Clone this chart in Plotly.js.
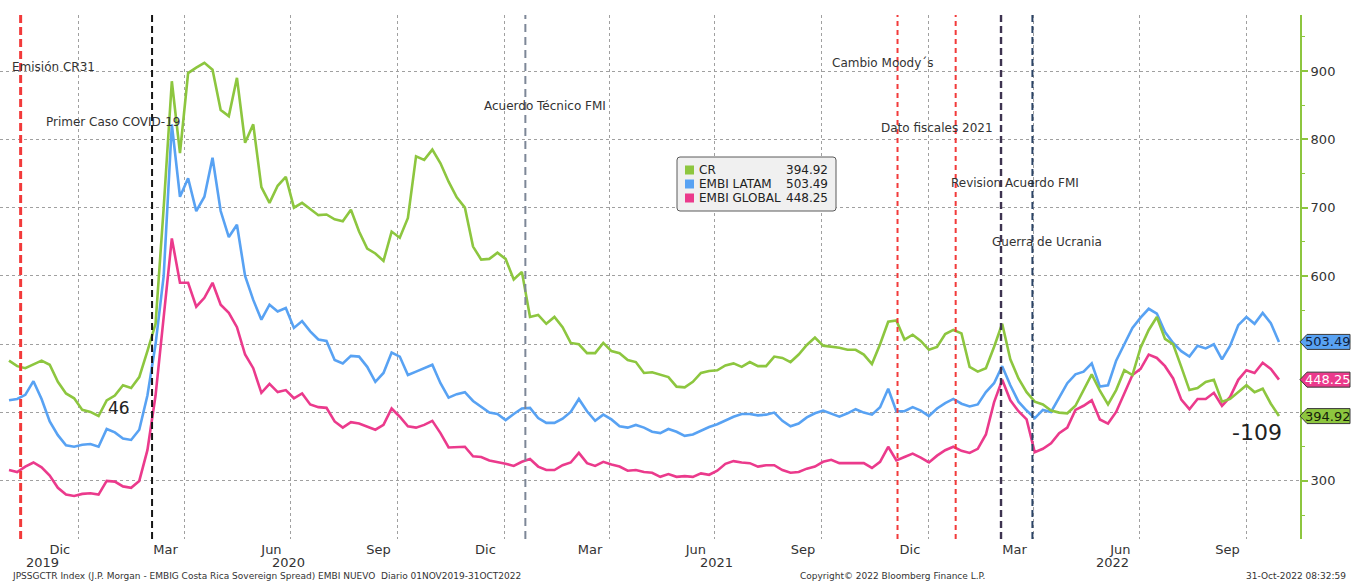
<!DOCTYPE html>
<html>
<head>
<meta charset="utf-8">
<script src="https://cdn.plot.ly/plotly-3.0.1.min.js"></script>
<style>
  html, body { margin: 0; padding: 0; background: #ffffff; }
  #chart { width: 1351px; height: 581px; }
</style>
</head>
<body>
<div id="chart"></div>
<script>
// ---------------- DATA ----------------
// Weekly observations starting 01-Nov-2019 (every 7 days)
const startDate = '2019-11-01';
const stepDays = 7;

const seriesNames = ['CR', 'EMBI LATAM', 'EMBI GLOBAL'];

const crSpread = [
  476,468,465,471,476,470,445,428,421,404,
  401,395,418,425,440,436,452,490,530,700,
  885,780,897,905,912,902,843,834,890,795,
  822,730,707,732,745,700,707,698,689,690,
  683,680,697,665,640,633,622,665,656,685,
  775,770,785,765,738,715,700,643,624,625,
  634,625,595,606,540,543,530,540,525,502,
  500,487,487,502,490,487,477,474,458,459,
  456,452,438,437,445,458,461,462,469,472,
  467,474,468,468,482,480,474,485,499,510,
  498,497,495,492,492,485,471,500,533,535,
  507,514,505,492,496,515,521,516,467,460,
  465,496,530,478,450,430,416,412,403,400,
  399,410,432,456,432,412,433,462,455,495,
  521,540,508,500,467,433,436,445,448,416,
  420,430,440,430,435,413,394.92
];

const embiLatam = [
  418,420,426,446,420,387,367,352,350,353,
  354,350,376,371,362,360,375,425,500,600,
  822,716,743,695,716,773,695,657,675,600,
  565,536,558,548,553,524,534,519,507,505,
  477,472,483,482,467,445,458,488,482,455,
  460,465,470,443,422,427,430,417,409,400,
  398,389,398,406,407,392,385,385,391,401,
  420,402,388,397,390,380,378,382,378,372,
  370,376,372,366,368,374,379,383,389,394,
  398,398,396,397,400,388,380,384,393,399,
  403,399,394,399,405,400,397,408,435,402,
  402,408,403,395,406,414,420,413,409,412,
  430,443,468,440,416,403,392,404,401,422,
  443,456,460,472,438,440,476,500,524,539,
  552,545,518,502,490,482,498,494,500,478,
  498,528,540,530,546,531,503.49
];

const embiGlobal = [
  316,313,321,327,320,308,290,280,278,281,
  282,280,300,299,292,290,300,345,425,540,
  655,590,590,555,568,590,558,546,525,485,
  465,429,442,430,433,421,428,412,408,407,
  387,378,386,384,379,375,382,406,394,380,
  378,382,388,370,349,349,350,336,335,330,
  328,325,322,328,332,321,316,316,323,327,
  341,326,322,328,324,321,315,316,313,312,
  306,310,306,307,306,311,309,315,325,329,
  327,326,321,323,323,316,312,313,318,321,
  328,331,326,326,326,326,319,328,350,330,
  335,340,334,327,337,345,350,344,341,347,
  368,415,448,418,402,390,342,347,355,370,
  378,404,410,418,390,384,401,427,455,464,
  485,480,468,450,419,405,420,420,429,410,
  423,448,462,458,473,464,448.25
];

// Axis ticks
const quarterEnds = ['2019-12-31','2020-03-31','2020-06-30','2020-09-30','2020-12-31','2021-03-31',
                     '2021-06-30','2021-09-30','2021-12-31','2022-03-31','2022-06-30','2022-09-30'];
const monthLabels = ['Dic','Mar','Jun','Sep','Dic','Mar','Jun','Sep','Dic','Mar','Jun','Sep'];
const yearLabels = ['2019','2020','2021','2022'];
const yearLabelDates = ['2019-11-30','2020-06-28','2021-07-01','2022-06-07'];
const yTickVals = [300,400,500,600,700,800,900];
const yTickText = ['300','','','600','700','800','900']; // 400 and 500 hidden behind value tags

// Events
const eventDates = ['2019-11-11','2020-03-03','2021-01-18','2021-12-04','2022-01-23','2022-03-03','2022-03-30'];
const eventTexts = ['Emisión CR31','Primer Caso COVID-19','Acuerdo Técnico FMI','Cambio Moody´s',
                    'Dato fiscales 2021','Revision Acuerdo FMI','Guerra de Ucrania'];
const changeLabels = ['46','-109'];

// ---------------- BUILD ----------------
const dates = [];
{
  const t0 = Date.parse(startDate + 'T00:00:00Z');
  for (let i = 0; i < crSpread.length; i++) {
    dates.push(new Date(t0 + i * stepDays * 86400000).toISOString().slice(0, 10));
  }
}

const GREEN = '#8DC63F', BLUE = '#58A2F3', PINK = '#EB3A8C';
const FONT = 'DejaVu Sans, Verdana, sans-serif';

// plot area in pixels: x 0..1300, y 15..539
const PW = 1300, PT = 15, PB = 539, PH = PB - PT;
const px = v => v / PW;
const py = v => (PB - v) / PH;

const traces = [
  {x: dates, y: embiGlobal, name: seriesNames[2], mode: 'lines', line: {color: PINK, width: 2.6}},
  {x: dates, y: embiLatam, name: seriesNames[1], mode: 'lines', line: {color: BLUE, width: 2.6}},
  {x: dates, y: crSpread, name: seriesNames[0], mode: 'lines', line: {color: GREEN, width: 2.6}}
];

const shapes = [];
const annotations = [];

// event lines
const evStyles = [
  {color: '#F23A3A', width: 3, dash: '8px,4px'},
  {color: '#161616', width: 2, dash: '7px,4px'},
  {color: '#7D8797', width: 2, dash: '8px,5px'},
  {color: '#F23A3A', width: 2, dash: '5px,4px'},
  {color: '#F23A3A', width: 2, dash: '5px,4px'},
  {color: '#3E3350', width: 2.4, dash: '7px,4px'},
  {color: '#2B4466', width: 2, dash: '7px,4px'}
];
eventDates.forEach((d, i) => {
  shapes.push({type: 'line', xref: 'x', yref: 'paper', x0: d, x1: d, y0: 0, y1: 1,
               line: evStyles[i], layer: 'above'});
});

// event labels (left x px, centre y px)
const evLabelPos = [[10,67],[44,122],[482,106],[830,63],[879,128],[949,183],[990,242]];
eventTexts.forEach((t, i) => {
  annotations.push({text: t, xref: 'paper', yref: 'paper', x: px(evLabelPos[i][0]), y: py(evLabelPos[i][1]),
    xanchor: 'left', yanchor: 'middle', showarrow: false,
    font: {family: FONT, size: 12, color: '#333333'}});
});

// change labels
annotations.push({text: changeLabels[0], xref: 'paper', yref: 'paper', x: px(119), y: py(408),
  xanchor: 'center', yanchor: 'middle', showarrow: false, font: {family: FONT, size: 17, color: '#222'}});
annotations.push({text: changeLabels[1], xref: 'paper', yref: 'paper', x: px(1257), y: py(433),
  xanchor: 'center', yanchor: 'middle', showarrow: false, font: {family: FONT, size: 22, color: '#222'}});

// year labels
yearLabels.forEach((t, i) => {
  annotations.push({text: t, xref: 'x', yref: 'paper', x: yearLabelDates[i], y: py(562),
    xanchor: 'center', yanchor: 'middle', showarrow: false, font: {family: FONT, size: 13, color: '#333'}});
});

// footer
annotations.push({text: 'JPSSGCTR Index (J.P. Morgan - EMBIG Costa Rica Sovereign Spread) EMBI NUEVO  Diario 01NOV2019-31OCT2022',
  xref: 'paper', yref: 'paper', x: px(10), y: py(576), xanchor: 'left', yanchor: 'middle', showarrow: false,
  font: {family: FONT, size: 9, color: '#333'}});
annotations.push({text: 'Copyright© 2022 Bloomberg Finance L.P.',
  xref: 'paper', yref: 'paper', x: px(798), y: py(576), xanchor: 'left', yanchor: 'middle', showarrow: false,
  font: {family: FONT, size: 9, color: '#333'}});
annotations.push({text: '31-Oct-2022 08:32:59',
  xref: 'paper', yref: 'paper', x: px(1348), y: py(576), xanchor: 'right', yanchor: 'middle', showarrow: false,
  font: {family: FONT, size: 9, color: '#333'}});

// legend box
const lx0 = 677, lx1 = 836, ly0 = 157, ly1 = 211, r = 3;
shapes.push({type: 'path', xref: 'paper', yref: 'paper', layer: 'above',
  path: `M ${px(lx0 + r)},${py(ly0)} L ${px(lx1 - r)},${py(ly0)} Q ${px(lx1)},${py(ly0)} ${px(lx1)},${py(ly0 + r)} ` +
        `L ${px(lx1)},${py(ly1 - r)} Q ${px(lx1)},${py(ly1)} ${px(lx1 - r)},${py(ly1)} ` +
        `L ${px(lx0 + r)},${py(ly1)} Q ${px(lx0)},${py(ly1)} ${px(lx0)},${py(ly1 - r)} ` +
        `L ${px(lx0)},${py(ly0 + r)} Q ${px(lx0)},${py(ly0)} ${px(lx0 + r)},${py(ly0)} Z`,
  fillcolor: '#F0F0F0', line: {color: '#5A5A5A', width: 1}});
const legendRows = [
  {name: seriesNames[0], val: crSpread[crSpread.length - 1], color: GREEN, y: 170},
  {name: seriesNames[1], val: embiLatam[embiLatam.length - 1], color: BLUE, y: 184},
  {name: seriesNames[2], val: embiGlobal[embiGlobal.length - 1], color: PINK, y: 198}
];
legendRows.forEach(row => {
  shapes.push({type: 'rect', xref: 'paper', yref: 'paper', layer: 'above',
    x0: px(685), x1: px(694), y0: py(row.y + 4.5), y1: py(row.y - 4.5),
    fillcolor: row.color, line: {width: 0}});
  annotations.push({text: row.name, xref: 'paper', yref: 'paper', x: px(697), y: py(row.y),
    xanchor: 'left', yanchor: 'middle', showarrow: false, font: {family: FONT, size: 12, color: '#222'}});
  annotations.push({text: row.val.toFixed(2), xref: 'paper', yref: 'paper', x: px(830), y: py(row.y),
    xanchor: 'right', yanchor: 'middle', showarrow: false, font: {family: FONT, size: 12, color: '#222'}});
});

// right-side value tags
const tagRows = [
  {val: embiLatam[embiLatam.length - 1], fill: BLUE, text: '#10213F'},
  {val: embiGlobal[embiGlobal.length - 1], fill: PINK, text: '#FFFFFF'},
  {val: crSpread[crSpread.length - 1], fill: GREEN, text: '#15200A'}
];
const halfH = 7.5 * (982 - 215) / PH;
tagRows.forEach(t => {
  const v = t.val;
  shapes.push({type: 'path', xref: 'paper', yref: 'y', layer: 'above',
    path: `M ${px(1300)},${v} L ${px(1307)},${v + halfH} L ${px(1350)},${v + halfH} L ${px(1350)},${v - halfH} L ${px(1307)},${v - halfH} Z`,
    fillcolor: t.fill, line: {color: '#3A3A3A', width: 1}});
  annotations.push({text: v.toFixed(2), xref: 'paper', yref: 'y', x: px(1328), y: v,
    xanchor: 'center', yanchor: 'middle', showarrow: false, font: {family: FONT, size: 13, color: t.text}});
});

const layout = {
  width: 1351, height: 581,
  margin: {l: 0, r: 51, t: 15, b: 42, pad: 0},
  paper_bgcolor: '#FFFFFF', plot_bgcolor: '#FFFFFF',
  showlegend: false,
  hovermode: false,
  font: {family: FONT, color: '#333'},
  xaxis: {
    type: 'date',
    range: ['2019-10-24 06:00', '2022-11-15 02:00'],
    tickmode: 'array', tickvals: quarterEnds, ticktext: monthLabels,
    ticklabelshift: -19, ticklabelstandoff: 1,
    ticks: '', showline: false, zeroline: false,
    showgrid: true, gridcolor: '#A0A0A0', griddash: 'dot', gridwidth: 1,
    tickfont: {family: FONT, size: 13, color: '#333'}
  },
  yaxis: {
    side: 'right',
    range: [215, 982],
    tickmode: 'array', tickvals: yTickVals, ticktext: yTickText,
    showline: true, linecolor: GREEN, linewidth: 2,
    ticks: 'outside', ticklen: 6, tickwidth: 2, tickcolor: GREEN,
    minor: {dtick: 50, tick0: 0, ticks: 'outside', ticklen: 3, tickwidth: 1, tickcolor: GREEN, showgrid: false},
    showgrid: true, gridcolor: '#A0A0A0', griddash: 'dot', gridwidth: 1,
    zeroline: false,
    tickfont: {family: FONT, size: 13, color: '#333'}
  },
  shapes: shapes,
  annotations: annotations
};

Plotly.newPlot('chart', traces, layout, {displayModeBar: false, staticPlot: true});
</script>
</body>
</html>
